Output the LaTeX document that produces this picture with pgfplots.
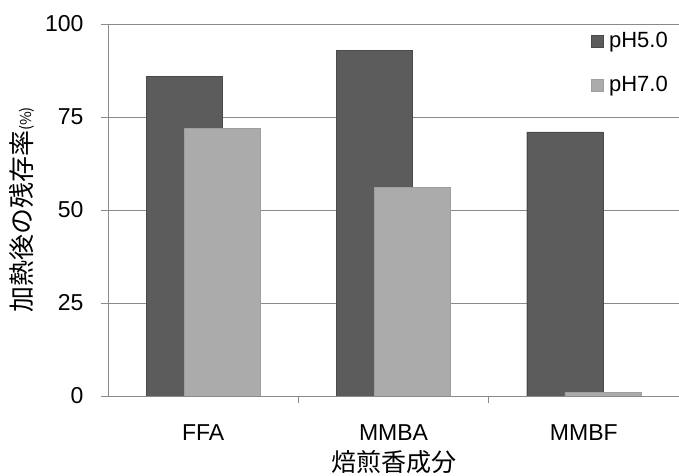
\documentclass[border=0pt]{standalone}
\usepackage{fontspec}
\setmainfont{Liberation Sans}
\newfontfamily\cjk{Noto Sans CJK JP}
\usepackage{pgfplots}
\pgfplotsset{compat=1.18}
\definecolor{gridc}{HTML}{8A8A8A}
\definecolor{dkA}{HTML}{4A4A4A}
\definecolor{dkB}{HTML}{5C5C5C}
\definecolor{ltA}{HTML}{9E9E9E}
\definecolor{ltB}{HTML}{ABABAB}
\begin{document}
\fontsize{22bp}{26bp}\selectfont
\begin{tikzpicture}
\begin{axis}[
  name=ax,
  scale only axis,
  width=571bp, height=372bp,
  xmin=-0.5, xmax=2.5, ymin=0, ymax=100,
  axis lines*=left,
  axis line style={gridc, line width=0.9bp},
  ytick={0,25,50,75,100},
  ymajorgrids,
  major grid style={gridc, line width=0.9bp},
  xtick={0,1,2},
  xticklabels={FFA,MMBA,MMBF},
  minor xtick={0.5,1.5,2.5},
  tick align=outside,
  major tick length=7bp,
  minor tick length=7bp,
  every tick/.style={gridc, line width=0.9bp},
  x tick style={draw=none},
  minor x tick style={draw=gridc, line width=0.9bp},
  /pgf/number format/assume math mode=true,
  yticklabel style={font=\fontsize{23bp}{26bp}\selectfont, xshift=-10bp},
  xticklabel style={font=\fontsize{23bp}{26bp}\selectfont, yshift=-14bp},
  xlabel={\cjk 焙煎香成分},
  xlabel style={font=\fontsize{25bp}{28bp}\selectfont, at={(axis description cs:0.5,0)}, anchor=north, yshift=-47bp},
  ylabel={{\cjk 加熱後の残存率}{\cjk\fontsize{15bp}{15bp}\selectfont (\%)}},
  ylabel style={font=\fontsize{26bp}{30bp}\selectfont, at={(axis description cs:-0.1506,0.5)}, anchor=center},
  bar width=0.4,
  legend style={at={(1,1)}, anchor=north east, draw=none, fill=none,
    font=\fontsize{22bp}{26bp}\selectfont, row sep=21bp, xshift=-6bp, yshift=-4bp,
    legend cell align=left},
  legend image code/.code={\fill[#1] (0bp,-6bp) rectangle (12bp,6bp); \path[draw=none,fill=none] (0bp,0bp) -- (16bp,0bp);},
]
\addplot[ybar, bar shift=-0.1, draw=dkA, fill=dkB]
  coordinates {(0,86) (1,93) (2,71)};
\addlegendentry{pH5.0}
\addplot[ybar, bar shift=0.1, draw=ltA, fill=ltB]
  coordinates {(0,72) (1,56) (2,1)};
\addlegendentry{pH7.0}
\end{axis}
\pgfresetboundingbox
\path ([shift={(-108bp,-80bp)}]ax.south west) rectangle ([shift={(0bp,24bp)}]ax.north east);
\end{tikzpicture}
\end{document}
